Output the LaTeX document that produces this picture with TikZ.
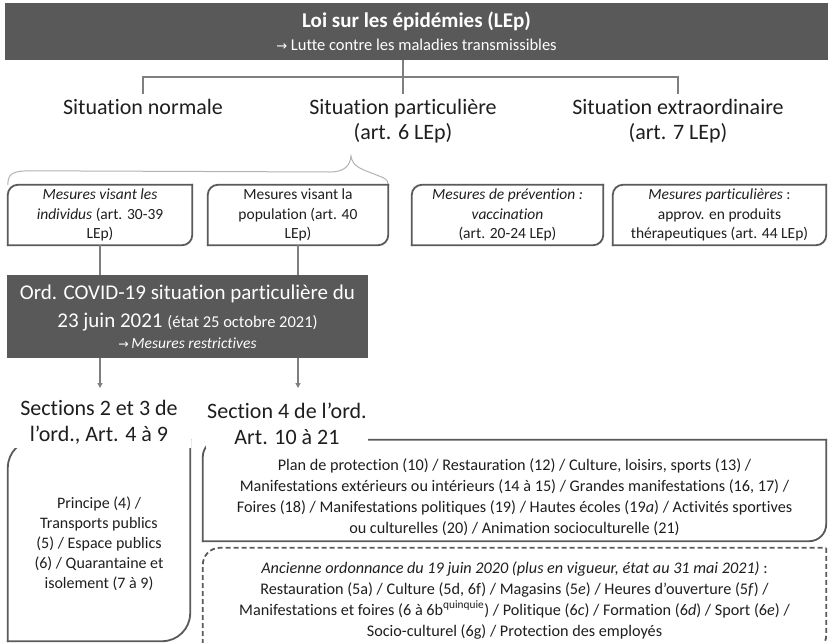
\documentclass[tikz,border=0pt]{standalone}
\usepackage{fontspec}
\setmainfont{Carlito}[Ligatures=NoCommon]
\newfontfamily\symf{DejaVu Sans}
\usetikzlibrary{arrows.meta,calc}
\definecolor{dk}{HTML}{595959}
\definecolor{ln}{HTML}{7F7F7F}
\definecolor{bd}{HTML}{5A5A5A}
\definecolor{tx}{HTML}{1E1E1E}
\tikzset{
  conn/.style={draw=ln, line width=1.2pt},
  arr/.style={conn, -{Triangle[length=5pt,width=5pt]}},
  bigtxt/.style={font=\fontsize{22}{25}\selectfont, align=center, inner sep=1pt, text=tx},
  rbox/.style={font=\fontsize{15.5}{19.5}\selectfont, align=center, inner sep=0pt, text=tx, minimum height=60pt},
  tbox/.style={font=\fontsize{16.2}{21}\selectfont, align=center, inner sep=0pt, text=tx},
  boxline/.style={draw=bd, line width=1.8pt, line cap=rect},
  darkbox/.style={fill=dk, text=white, align=center, inner sep=0pt},
  brace/.style={draw=gray!60, line width=1pt},
}
\newcommand\rdoutline[3][]{%
  \draw[boxline,#1,rounded corners=#3] (#2.south west) -- (#2.north west) -- (#2.north east);
  \draw[boxline,#1,rounded corners=#3] (#2.north east) -- (#2.south east) -- (#2.south west);}
\begin{document}
\begin{tikzpicture}[x=1pt,y=-1pt]
\useasboundingbox (0,0) rectangle (828,643);
% banner
\node[darkbox, minimum width=823pt, minimum height=57pt, font=\fontsize{16.5}{23}\selectfont] (lep) at (416.5,31.5)
  {{\bfseries\fontsize{21}{23}\selectfont Loi sur les épidémies (LEp)}\\
   {\symf\fontsize{13}{16}\selectfont →} Lutte contre les maladies transmissibles};
% situations
\node[bigtxt, anchor=north] (sn) at (143,98) {Situation normale};
\node[bigtxt, anchor=north] (sp) at (403,98) {Situation particulière\\(art. 6 LEp)};
\node[bigtxt, anchor=north] (se) at (678,98) {Situation extraordinaire\\(art. 7 LEp)};
\coordinate (bus) at (403,77);
\coordinate (tick) at (403,94);
\draw[conn] (lep.south -| sp.north) -- (tick -| sp.north);
\draw[conn] (sn.north |- tick) -- (sn.north |- bus) -- (se.north |- bus) -- (se.north |- tick);
% row 1 boxes
\node[rbox, minimum width=184pt] (mi) at (100,215)
  {\textit{Mesures visant les}\\\textit{individus} (art. 30-39\\LEp)};
\node[rbox, minimum width=180pt] (mp) at (298,215)
  {Mesures visant la\\population (art. 40\\LEp)};
\node[rbox, minimum width=191pt] (mv) at (507.5,215)
  {\textit{Mesures de prévention :}\\\textit{vaccination}\\(art. 20-24 LEp)};
\node[rbox, minimum width=213pt] (mpa) at (719.5,215)
  {\textit{Mesures particulières} :\\approv. en produits\\thérapeutiques (art. 44 LEp)};
% brace
\draw[brace] (mi.north west) .. controls ($(mi.north west)+(0,-12)$) and ($(mi.north west)+(6,-14)$) ..
  ($(mi.north west)+(24,-14)$) -- (330,172) .. controls (344,172) and (350,166) .. (351,156)
  .. controls (352,167) and (364,170) .. (374,174) .. controls (384,178) and ($(mp.north east)+(0,-6)$) .. (mp.north east);
\rdoutline{mi}{10pt}
\rdoutline{mp}{10pt}
\rdoutline{mv}{10pt}
\rdoutline{mpa}{10pt}
% ordinance
\node[darkbox, minimum width=361pt, minimum height=83pt, font=\fontsize{21}{28}\selectfont] (ord) at (187.5,316.5)
  {Ord. COVID-19 situation particulière du\\
   23 juin 2021 {\fontsize{16.5}{18}\selectfont (état 25 octobre 2021)}\\[-7pt]
   {\fontsize{15.5}{18}\selectfont{\symf\fontsize{12.5}{18}\selectfont →}\,\textit{Mesures restrictives}}};
\draw[conn] (mi.south) -- (mi.south |- ord.north);
\draw[conn] (mp.south) -- (mp.south |- ord.north);
% lower boxes
\node[tbox, minimum width=182pt, minimum height=201pt, font=\fontsize{16}{20}\selectfont] (pr) at (99,540.5)
  {\rule{0pt}{19pt}Principe (4) /\\Transports publics\\(5) / Espace publics\\(6) / Quarantaine et\\isolement (7 à 9)};
\rdoutline{pr}{28pt}
\node[tbox, minimum width=623pt, minimum height=101pt] (art) at (514.5,490.5)
  {\rule{0pt}{25pt}Plan de protection (10) / Restauration (12) / Culture, loisirs, sports (13) /\\
   Manifestations extérieurs ou intérieurs (14 à 15) / Grandes manifestations (16, 17) /\\
   Foires (18) / Manifestations politiques (19) / Hautes écoles (19\textit{a}) / Activités sportives\\
   ou culturelles (20) / Animation socioculturelle (21)};
\rdoutline{art}{17pt}
\node[tbox, minimum width=623pt, minimum height=104pt] (anc) at (514.5,600)
  {\textit{Ancienne ordonnance du 19 juin 2020 (plus en vigueur, état au 31 mai 2021)} :\\
   Restauration (5a) / Culture (5d, 6f) / Magasins (5\textit{e}) / Heures d’ouverture (5\textit{f}) /\\
   Manifestations et foires (6 à 6b\textsuperscript{quinquie}) / Politique (6\textit{c}) / Formation (6\textit{d}) / Sport (6\textit{e}) /\\
   Socio-culturel (6g) / Protection des employés};
\rdoutline[dashed, dash pattern=on 5pt off 3pt, line cap=butt]{anc}{17pt}
% section labels
\node[bigtxt, anchor=south, fill=white, minimum width=184pt, inner ysep=3pt, font=\fontsize{22}{26}\selectfont] (s23) at (99,448)
  {Sections 2 et 3 de\\l’ord., Art. 4 à 9};
\node[bigtxt, anchor=south, fill=white, inner ysep=3pt, font=\fontsize{22}{26}\selectfont] (s4) at (287,448)
  {Section 4 de l’ord.\\Art. 10 à 21};
\coordinate (tipy) at (0,388);
\draw[arr] (ord.south -| mi.south) -- (tipy -| mi.south);
\draw[arr] (ord.south -| mp.south) -- (tipy -| mp.south);
\end{tikzpicture}
\end{document}
